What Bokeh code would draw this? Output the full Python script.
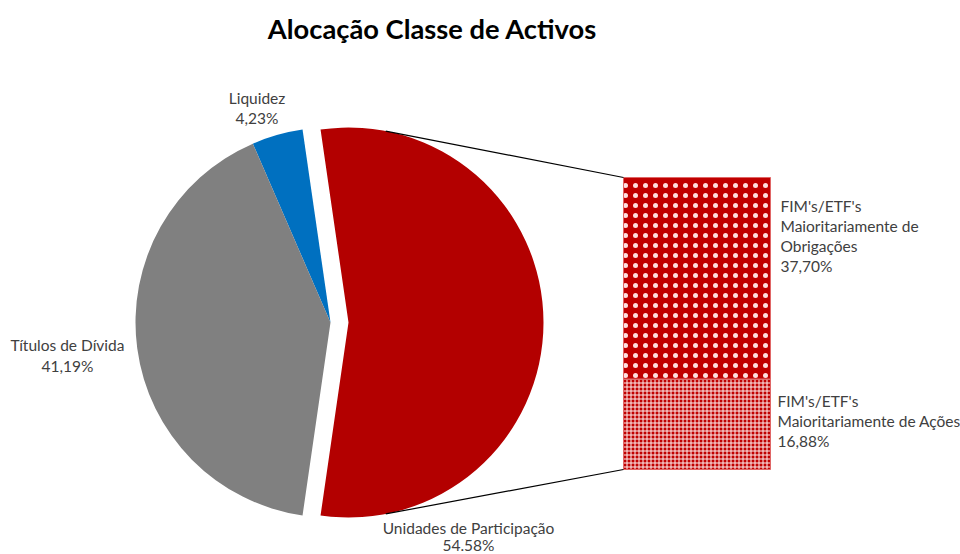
import math
from bokeh.plotting import figure
from bokeh.models import Range1d
from bokeh.core.properties import value
from bokeh.embed import file_html
from bokeh.resources import INLINE

# ---------------- data ----------------
title = "Alocação Classe de Activos"
pie_categories = ["Unidades de Participação", "Liquidez", "Títulos de Dívida"]
pie_values = [54.58, 4.23, 41.19]
pie_labels = ["54.58%", "4,23%", "41,19%"]
pie_colors = ["#B30000", "#0070C0", "#808080"]

bar_categories = ["FIM's/ETF's\nMaioritariamente de\nObrigações",
                  "FIM's/ETF's\nMaioritariamente de Ações"]
bar_values = [37.70, 16.88]
bar_labels = ["37,70%", "16,88%"]

# ---------------- layout (pixel-like coordinates) ----------------
W, H = 960, 554
def Y(py):
    return H - py

p = figure(width=W, height=H, x_range=Range1d(0, W), y_range=Range1d(0, H),
           output_backend="svg", toolbar_location=None, min_border=0)
p.axis.visible = False
p.grid.visible = False
p.outline_line_color = None
p.background_fill_color = "white"

FONT = value("Lato")
LABEL_COLOR = "#404040"

# pie
cx, cy, r = 330, Y(322), 195
explode = 18
total = sum(pie_values)
span0 = pie_values[0] / total * 2 * math.pi
starts, ends, xs = [], [], []
a = -span0 / 2
for i, v in enumerate(pie_values):
    s = a
    e = a + v / total * 2 * math.pi
    starts.append(s)
    ends.append(e)
    xs.append(cx + (explode if i == 0 else 0))
    a = e
p.wedge(x=xs, y=[cy] * 3, radius=r, start_angle=starts, end_angle=ends,
        fill_color=pie_colors, line_color=None)

# bar
bx0, bx1 = 623, 770
btop, bheight = 177, 292
scale = bheight / sum(bar_values)
tops, bottoms = [], []
t = btop
for v in bar_values:
    tops.append(Y(t))
    bottoms.append(Y(t + v * scale))
    t += v * scale

p.quad(left=[bx0], right=[bx1], top=[tops[0]], bottom=[bottoms[0]],
       fill_color="#C00000", line_color="#E06666", line_width=1,
       hatch_pattern="dot", hatch_color="#FFE0E0", hatch_scale=10, hatch_weight=1)
p.quad(left=[bx0], right=[bx1], top=[tops[1]], bottom=[bottoms[1]],
       fill_color="#C00000", line_color="#E06666", line_width=1,
       hatch_pattern="cross", hatch_color="#FFF0F0", hatch_scale=4, hatch_weight=1)

# connector lines
rcx = cx + explode
ang = math.radians(79)
p.line([rcx + r * math.cos(ang), bx0], [cy + r * math.sin(ang), tops[0]],
       line_color="black", line_width=1.2)
p.line([rcx + r * math.cos(-ang), bx0], [cy + r * math.sin(-ang), bottoms[1]],
       line_color="black", line_width=1.2)

# labels
def draw_label(lines, x, y0, align, step):
    ys = [Y(y0 + i * step) for i in range(len(lines))]
    p.text(x=[x] * len(lines), y=ys, text=lines, text_font=FONT,
           text_font_size="15.5px", text_color=LABEL_COLOR,
           text_align=align, text_baseline="middle")

pie_label_pos = [(468, 527, 17.5), (256.5, 97, 20), (67, 344, 21)]
for cat, lab, (lx, ly, st) in zip(pie_categories, pie_labels, pie_label_pos):
    draw_label(cat.split("\n") + [lab], lx, ly, "center", st)

bar_label_pos = [(780, 205, 20.3), (777, 400, 20)]
for cat, lab, (lx, ly, st) in zip(bar_categories, bar_labels, bar_label_pos):
    draw_label(cat.split("\n") + [lab], lx, ly, "left", st)

# title
p.text(x=[432], y=[Y(28)], text=[title], text_font=FONT, text_font_size="27.3px",
       text_font_style="bold", text_color="black", text_align="center",
       text_baseline="middle")

open("out.html", "w").write(file_html(p, INLINE))
